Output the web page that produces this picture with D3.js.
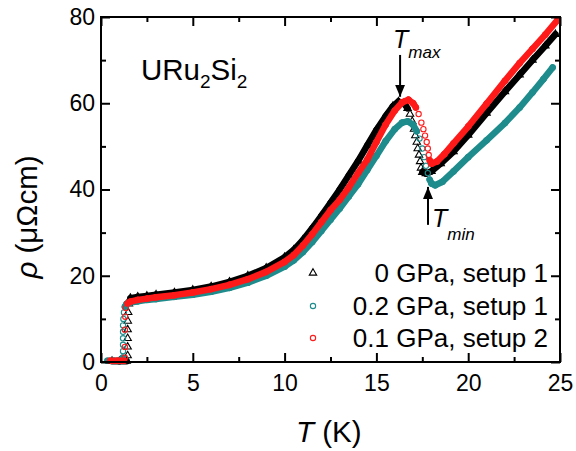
<!DOCTYPE html>
<html>
<head>
<meta charset="utf-8">
<script src="https://cdn.jsdelivr.net/npm/d3@7"></script>
<style>
    body { margin: 0; background: #fff; }
    svg { display: block; font-family: "Liberation Sans", Arial, sans-serif; }
</style>
</head>
<body>
<div class="container"></div>
<script>

// DATA (T in K, rho in µΩcm)
const series0GPa = [
    [0.6, 0.2], [1.0, 0.2], [1.4, 0.2], [1.45, 1.5], [1.45, 3.5], [1.45, 5.5], [1.45, 7.5],
    [1.46, 9.5], [1.48, 11.5], [1.52, 13.5], [1.6, 14.8], [2, 15.1], [2.5, 15.3], [3, 15.6],
    [4, 16.1], [5, 16.7], [6, 17.5], [7, 18.6], [8, 20.0], [9, 21.8], [10, 24.3], [10.5, 26.0],
    [11, 28.3], [11.5, 31.0], [12, 33.9], [12.5, 36.9], [13, 40.0], [13.5, 43.3], [14, 46.6],
    [14.5, 50.2], [15, 53.8], [15.5, 57.0], [15.9, 59.3], [16.2, 60.4], [16.5, 60.0], [16.7, 58.8],
    [16.83, 57.5], [16.95, 55.8], [17.05, 54.0], [17.12, 52.5], [17.2, 51.0], [17.25, 49.5],
    [17.32, 48.0], [17.38, 46.5], [17.43, 45.0], [17.5, 44.0], [17.7, 43.7], [18.0, 44.2],
    [18.5, 46.0], [19.2, 48.8], [20, 52.6], [21, 57.7], [22, 62.7], [22.8, 66.6], [23.5, 70.0],
    [24.2, 73.3], [24.75, 76.0]
];

const series02GPa = [
    [0.35, 0.3], [0.7, 0.3], [1.1, 0.3], [1.18, 1], [1.2, 2.5], [1.2, 4], [1.2, 5.5], [1.2, 7],
    [1.2, 8.5], [1.22, 10], [1.25, 11.5], [1.3, 12.8], [1.4, 13.5], [1.6, 13.8], [2, 14.1],
    [2.5, 14.4], [3, 14.6], [4, 15.1], [5, 15.6], [6, 16.3], [7, 17.2], [8, 18.4], [9, 20.0],
    [10, 22.1], [10.5, 23.6], [11, 25.5], [11.5, 27.8], [12, 30.4], [12.5, 33.0], [13, 35.6],
    [13.5, 38.4], [14, 41.2], [14.5, 44.5], [15, 47.8], [15.5, 51.2], [16, 54.0], [16.4, 55.5],
    [16.7, 55.8], [17.0, 55.0], [17.2, 53.5], [17.35, 51.8], [17.5, 49.5], [17.6, 47.5],
    [17.7, 45.5], [17.8, 43.8], [17.9, 42.3], [18.0, 41.4], [18.2, 41.0], [18.6, 41.8],
    [19.2, 44.2], [20, 47.5], [21, 51.4], [22, 55.4], [22.8, 59.0], [23.5, 62.5], [24.1, 65.6],
    [24.6, 68.3]
];

const series01GPa = [
    [0.5, 0.3], [0.9, 0.3], [1.25, 0.3], [1.3, 1], [1.3, 3.5], [1.3, 7.5], [1.32, 10.5],
    [1.35, 12.5], [1.45, 13.6], [1.6, 14.0], [2, 14.4], [2.5, 14.7], [3, 15.0], [4, 15.5],
    [5, 16.1], [6, 16.9], [7, 17.9], [8, 19.2], [9, 20.9], [10, 23.2], [10.5, 24.8], [11, 27.0],
    [11.5, 29.6], [12, 32.4], [12.5, 35.2], [13, 37.6], [13.5, 40.5], [14, 43.8], [14.5, 46.9],
    [15, 51.0], [15.5, 55.0], [16, 58.3], [16.4, 60.2], [16.75, 60.8], [17.0, 60.0], [17.15, 59.0],
    [17.3, 57.5], [17.45, 55.5], [17.56, 54.0], [17.65, 52.5], [17.74, 51.0], [17.8, 49.5],
    [17.85, 48.0], [17.9, 46.8], [18.0, 46.0], [18.3, 46.5], [18.7, 48.2], [19.2, 50.7],
    [20, 54.6], [21, 59.9], [22, 65.2], [22.8, 69.3], [23.5, 72.6], [24.2, 75.9], [24.85, 79.2]
];

const legendLabels = ["0 GPa, setup 1", "0.2 GPa, setup 1", "0.1 GPa, setup 2"];
const xTicks = [0, 5, 10, 15, 20, 25];
const xMinorTicks = [2.5, 7.5, 12.5, 17.5, 22.5];
const yTicks = [0, 20, 40, 60, 80];
const yMinorTicks = [10, 30, 50, 70];

// annotation positions, [T, rho tail, rho tip]
const tmaxArrow = [16.29, 71.2, 61.5];
const tminArrow = [17.81, 31.8, 40.6];

const margin = { top: 17, right: 16, bottom: 89, left: 101 };
const width = 576 - margin.left - margin.right,
    height = 451 - margin.top - margin.bottom;

const svg = d3.select(".container")
    .append("svg")
    .attr("width", 576)
    .attr("height", 451);

const g = svg.append("g")
    .attr("transform", `translate(${margin.left}, ${margin.top})`);

// SCALES
const x = d3.scaleLinear().domain([0, 25]).range([0, width]);
const y = d3.scaleLinear().domain([0, 80]).range([height, 0]);

// SERIES
const styles = [
    { data: series0GPa, color: "#000000", symbol: d3.symbolTriangle, size: 24 },
    { data: series02GPa, color: "#1e8c8c", symbol: d3.symbolCircle, size: 22 },
    { data: series01GPa, color: "#ff1a1a", symbol: d3.symbolCircle, size: 22 }
];

styles.forEach(s => {
    const layer = g.append("g");

    // dense measurement: where the curve is shallow the points merge into a band
    const pairs = d3.pairs(s.data).filter(([a, b]) => {
        const dx = Math.abs(x(b[0]) - x(a[0]));
        const dy = Math.abs(y(b[1]) - y(a[1]));
        return dy <= 2.2 * dx;
    });

    layer.selectAll("line")
        .data(pairs)
        .enter()
        .append("line")
        .attr("x1", d => x(d[0][0]))
        .attr("y1", d => y(d[0][1]))
        .attr("x2", d => x(d[1][0]))
        .attr("y2", d => y(d[1][1]))
        .attr("stroke", s.color)
        .attr("stroke-width", 6.5)
        .attr("stroke-linecap", "round");

    layer.selectAll("path")
        .data(s.data)
        .enter()
        .append("path")
        .attr("transform", d => `translate(${x(d[0])}, ${y(d[1])})`)
        .attr("d", d3.symbol().type(s.symbol).size(s.size))
        .attr("fill", "none")
        .attr("stroke", s.color)
        .attr("stroke-width", 1.1);
});

// AXES
const tickFont = g => g.selectAll("text")
    .style("font-size", "23px")
    .style("fill", "#000");

const styleAxis = sel => {
    sel.select(".domain").remove();
    sel.selectAll("line").attr("stroke", "#000").attr("stroke-width", 2);
};

g.append("g")
    .attr("transform", `translate(0, ${height})`)
    .call(d3.axisBottom(x).tickValues(xTicks).tickSize(-9).tickPadding(13).tickFormat(d3.format("d")))
    .call(styleAxis)
    .call(tickFont);

g.append("g")
    .attr("transform", `translate(0, ${height})`)
    .call(d3.axisBottom(x).tickValues(xMinorTicks).tickSize(-5).tickFormat(""))
    .call(styleAxis);

g.append("g")
    .call(d3.axisTop(x).tickValues(xTicks).tickSize(-9).tickFormat(""))
    .call(styleAxis);

g.append("g")
    .call(d3.axisTop(x).tickValues(xMinorTicks).tickSize(-5).tickFormat(""))
    .call(styleAxis);

g.append("g")
    .call(d3.axisLeft(y).tickValues(yTicks).tickSize(-9).tickPadding(6).tickFormat(d3.format("d")))
    .call(styleAxis)
    .call(tickFont);

g.append("g")
    .call(d3.axisLeft(y).tickValues(yMinorTicks).tickSize(-5).tickFormat(""))
    .call(styleAxis);

g.append("g")
    .attr("transform", `translate(${width}, 0)`)
    .call(d3.axisRight(y).tickValues(yTicks).tickSize(-9).tickFormat(""))
    .call(styleAxis);

g.append("g")
    .attr("transform", `translate(${width}, 0)`)
    .call(d3.axisRight(y).tickValues(yMinorTicks).tickSize(-5).tickFormat(""))
    .call(styleAxis);

// frame
g.append("rect")
    .attr("width", width)
    .attr("height", height)
    .attr("fill", "none")
    .attr("stroke", "#000")
    .attr("stroke-width", 2);

// AXIS TITLES
const xTitle = svg.append("text")
    .attr("x", 296)
    .attr("y", 442)
    .style("font-size", "29.5px");
xTitle.append("tspan").style("font-style", "italic").text("T");
xTitle.append("tspan").text(" (K)");

const yTitle = svg.append("text")
    .attr("transform", "translate(37, 217) rotate(-90)")
    .attr("text-anchor", "middle")
    .style("font-size", "29.5px");
yTitle.append("tspan").style("font-style", "italic").text("ρ");
yTitle.append("tspan").text(" (μΩcm)");

// COMPOUND LABEL
const compound = svg.append("text")
    .attr("x", 141)
    .attr("y", 80)
    .style("font-size", "29.5px");
compound.append("tspan").text("URu");
compound.append("tspan").attr("dy", 8).style("font-size", "19px").text("2");
compound.append("tspan").attr("dy", -8).text("Si");
compound.append("tspan").attr("dy", 8).style("font-size", "19px").text("2");

// ARROWS
svg.append("defs")
    .append("marker")
    .attr("id", "head")
    .attr("viewBox", "0 0 12 10")
    .attr("refX", 12)
    .attr("refY", 5)
    .attr("markerWidth", 12)
    .attr("markerHeight", 10)
    .attr("markerUnits", "userSpaceOnUse")
    .attr("orient", "auto")
    .append("path")
    .attr("d", "M0,0 L12,5 L0,10 Z")
    .attr("fill", "#000");

[tmaxArrow, tminArrow].forEach(a => {
    g.append("line")
        .attr("x1", x(a[0]))
        .attr("y1", y(a[1]))
        .attr("x2", x(a[0]))
        .attr("y2", y(a[2]))
        .attr("stroke", "#000")
        .attr("stroke-width", 2)
        .attr("marker-end", "url(#head)");
});

const tmax = svg.append("text")
    .attr("x", 393)
    .attr("y", 48)
    .style("font-size", "25px")
    .style("font-style", "italic");
tmax.append("tspan").text("T");
tmax.append("tspan").attr("dy", 10).style("font-size", "17px").text("max");

const tmin = svg.append("text")
    .attr("x", 432)
    .attr("y", 227)
    .style("font-size", "25px")
    .style("font-style", "italic");
tmin.append("tspan").text("T");
tmin.append("tspan").attr("dy", 13).style("font-size", "17px").text("min");

// LEGEND
const legendRows = [273, 306, 338];
const legend = svg.append("g");

styles.forEach((s, i) => {
    legend.append("path")
        .attr("transform", `translate(313, ${legendRows[i]})`)
        .attr("d", d3.symbol().type(s.symbol).size(s.size))
        .attr("fill", "none")
        .attr("stroke", s.color)
        .attr("stroke-width", 1.1);

    legend.append("text")
        .attr("x", 548)
        .attr("y", legendRows[i] + 9)
        .attr("text-anchor", "end")
        .style("font-size", "26px")
        .text(legendLabels[i]);
});

</script>
</body>
</html>
